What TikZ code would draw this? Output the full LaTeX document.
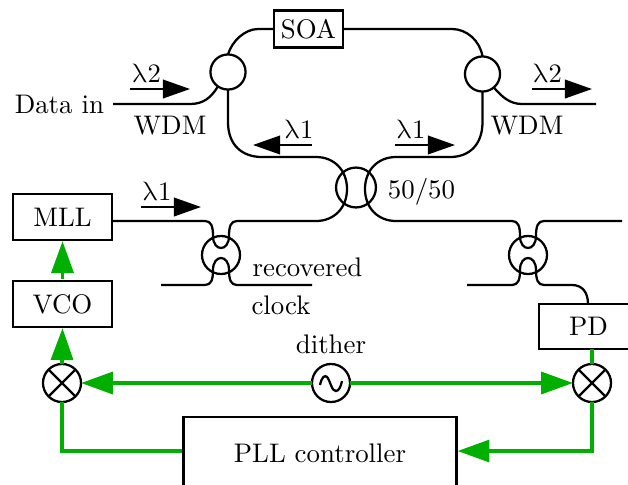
\documentclass[tikz,border=0pt]{standalone}
\usetikzlibrary{arrows.meta}
\definecolor{loopgreen}{RGB}{0,175,0}
\newcommand{\uplam}{\tikz[baseline=0pt]\node[xslant=-0.22,transform shape,inner sep=0pt,anchor=base] {$\lambda$};}
\tikzset{
  every node/.style={font=\fontsize{10.1}{12}\selectfont},
  fiber/.style={line width=0.85pt},
  box/.style={draw,line width=0.85pt,rectangle,inner sep=0pt},
  ring/.style={draw,line width=0.85pt,circle,inner sep=0pt,outer sep=0pt,minimum size=#1},
  ring/.default=14.3pt,
  mixer/.style={ring,path picture={
    \draw[line width=0.85pt] (path picture bounding box.north west) -- (path picture bounding box.south east);
    \draw[line width=0.85pt] (path picture bounding box.north east) -- (path picture bounding box.south west);}},
  flow/.style={line width=0.75pt,-{Triangle[length=10.2pt,width=7pt]}},
  sig/.style={draw=loopgreen,line width=1.5pt},
  sigarrow/.style={sig,-{Triangle[length=12pt,width=8.2pt,fill=loopgreen]}}
}
\begin{document}
\begin{tikzpicture}[x=0.376pt,y=-0.376pt]
   \clip (0,0) rectangle (628,484);
   % boxes
   \node[box,minimum width=26pt,minimum height=13.9pt] (soa) at (308.5,29) {SOA};
   \node[box,minimum width=37.2pt,minimum height=17.3pt] (mll) at (62.5,217) {MLL};
   \node[box,minimum width=37.2pt,minimum height=17.3pt] (vco) at (62.5,304) {VCO};
   \node[box,minimum width=37.2pt,minimum height=17pt] (pd) at (588.5,326.5) {PD};
   \node[box,minimum width=102.6pt,minimum height=27.5pt] (pll) at (320,453.5) {PLL controller};
   % rings
   \node[ring=13.2pt] (wdml) at (228,72) {};
   \node[ring=13.2pt] (wdmr) at (482.5,74) {};
   \node[ring=15pt] (cpl) at (356,187.5) {};
   \node[ring] (tapl) at (221,255) {};
   \node[ring] (tapr) at (528,255) {};
   \node[mixer] (mixl) at (62,383) {};
   \node[mixer] (mixr) at (592,383) {};
   \node[ring] (osc) at (331,383) {};
   \draw[fiber] (320,385) .. controls (322,376) and (325,375) .. (327,377)
     .. controls (330,380) and (332,392) .. (336,391)
     .. controls (339,391) and (341,386) .. (342,381);
   % labels
   \node[inner sep=3.2pt,anchor=east] (datain) at (113,104) {Data in};
   \node (wdmltxt) at (170,126) {WDM};
   \node (wdmrtxt) at (527,126) {WDM};
   \node (cpltxt) at (421.5,192) {50/50};
   \node (rectxt) at (307.5,267) {recovered};
   \node (clktxt) at (281,305) {clock};
   \node (dith) at (331,344) {dither};
   % wavelength arrows
   \foreach \n/\xa/\xb/\y/\xt/\lab in {a/130/190/89/144.5/2,b/312/253/145/297/1,c/395/455/145/409/1,d/532/592/89/545.5/2,e/141/201/207/155/1}{
     \coordinate (\n0) at (\xa,\y);
     \coordinate (\n1) at (\xb,\y);
     \node (\n t) at (\xt,\y-16) {\uplam$\lab$};
     \draw[flow] (\n0) -- (\n1);
   }
   % fibers
   \draw[fiber] (datain.east) -- (190,104) .. controls (203,104) and (211,98) .. (wdml.-125);
   \draw[fiber] (wdml.north) .. controls (232,41) and (245,29) .. (258,29) -- (soa.west);
   \draw[fiber] (soa.east) -- (452,29) .. controls (467,29) and (480,41) .. (wdmr.north);
   \draw[fiber] (wdmr.-50) .. controls (502,97) and (510,104) .. (522,104) -- (596,104);
   \draw[fiber] (wdml.south) -- (228,122) .. controls (228,145) and (242,157) .. (262,157) -- (316,157)
     .. controls (334,157) and (347,170) .. (347,189)
     .. controls (347,208) and (334,221) .. (316,221) -- (237,221)
     .. controls (231,221) and (229,226) .. (229,236)
     .. controls (229,244) and (225,248) .. (221,248)
     .. controls (217,248) and (213,244) .. (213,236)
     .. controls (213,226) and (211,221) .. (205,221) -- (mll.east |- 0,221);
   \draw[fiber] (wdmr.south) -- (482.5,122) .. controls (482.5,145) and (469,157) .. (450,157) -- (396,157)
     .. controls (378,157) and (365,170) .. (365,189)
     .. controls (365,208) and (378,221) .. (396,221) -- (512,221)
     .. controls (518,221) and (520,226) .. (520,236)
     .. controls (520,244) and (524,248) .. (528,248)
     .. controls (532,248) and (536,244) .. (536,236)
     .. controls (536,226) and (538,221) .. (544,221) -- (622,221);
   \draw[fiber] (161,285) -- (205,285) .. controls (211,285) and (213,280) .. (213,270)
     .. controls (213,262) and (217,258) .. (221,258)
     .. controls (225,258) and (229,262) .. (229,270)
     .. controls (229,280) and (231,285) .. (237,285) -- (312,285);
   \draw[fiber] (467,285) -- (512,285) .. controls (518,285) and (520,280) .. (520,270)
     .. controls (520,262) and (524,258) .. (528,258)
     .. controls (532,258) and (536,262) .. (536,270)
     .. controls (536,280) and (538,285) .. (544,285) -- (572,285)
     .. controls (582,285) and (588,292) .. (588,304);
   % loop
   \draw[sigarrow] (vco.north) ++(0,-1) -- (mll.south);
   \draw[sigarrow] (mixl.north) -- (vco.south);
   \draw[sig] (mixl.south) -- (62,451) -- (pll.west |- 0,451);
   \draw[sigarrow] (osc.west) -- (mixl.east);
   \draw[sigarrow] (osc.east) -- (mixr.west);
   \draw[sig] (mixr.north) -- (592,349);
   \draw[sigarrow] (mixr.south) -- (592,451) -- (pll.east |- 0,451);
  \end{tikzpicture}
\end{document}
